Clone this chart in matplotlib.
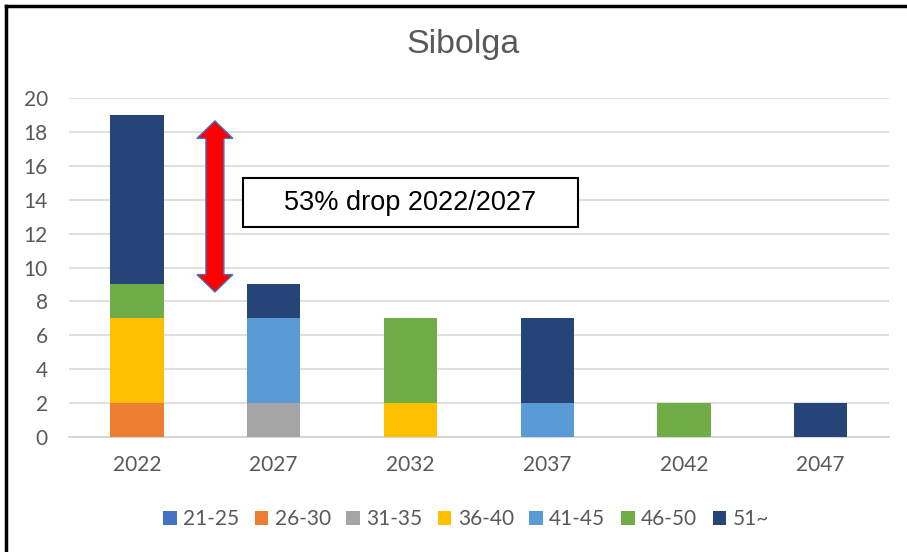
import matplotlib
matplotlib.use("Agg")
import matplotlib.pyplot as plt
from matplotlib.patches import Polygon, Rectangle, Patch
from matplotlib.lines import Line2D
import numpy as np

# Data: number of people per age group, by year
years = ["2022", "2027", "2032", "2037", "2042", "2047"]
age_groups = ["21-25", "26-30", "31-35", "36-40", "41-45", "46-50", "51~"]
counts_21_25 = [0, 0, 0, 0, 0, 0]
counts_26_30 = [2, 0, 0, 0, 0, 0]
counts_31_35 = [0, 2, 0, 0, 0, 0]
counts_36_40 = [5, 0, 2, 0, 0, 0]
counts_41_45 = [0, 5, 0, 2, 0, 0]
counts_46_50 = [2, 0, 5, 0, 2, 0]
counts_51_up = [10, 2, 0, 5, 0, 2]
series = [counts_21_25, counts_26_30, counts_31_35, counts_36_40,
          counts_41_45, counts_46_50, counts_51_up]
colors = ["#4472C4", "#ED7D31", "#A5A5A5", "#FFC000",
          "#5B9BD5", "#70AD47", "#264478"]
y_ticks = [0, 2, 4, 6, 8, 10, 12, 14, 16, 18, 20]
title = "Sibolga"
note = "53% drop 2022/2027"

W, H = 907, 552
fig = plt.figure(figsize=(W / 100, H / 100), dpi=100)
ax = fig.add_axes([68.6 / W, 1 - 437 / H, (889 - 68.6) / W, (437 - 98) / H])

tick_font = "Lato"
gray_text = "#595959"

x = np.arange(len(years))
bottom = np.zeros(len(years))
for vals, col, lab in zip(series, colors, age_groups):
    v = np.array(vals, dtype=float)
    ax.bar(x, v, 0.39, bottom=bottom, color=col, label=lab, zorder=3)
    bottom += v

ax.set_xlim(-0.5, len(years) - 0.5)
ax.set_ylim(0, 20)
ax.set_yticks(y_ticks)
ax.set_xticks(x)
ax.set_xticklabels(years)
ax.grid(axis="y", color="#d9d9d9", linewidth=1.2, zorder=0)
ax.set_axisbelow(True)
for s in ["top", "right", "left"]:
    ax.spines[s].set_visible(False)
ax.spines["bottom"].set_color("#d0d0d0")
ax.spines["bottom"].set_linewidth(1.2)
ax.tick_params(axis="both", length=0, labelsize=15, labelcolor=gray_text)
ax.tick_params(axis="x", pad=13)
ax.tick_params(axis="y", pad=15)
for lbl in ax.get_xticklabels() + ax.get_yticklabels():
    lbl.set_fontfamily(tick_font)

# Double-headed red arrow between the 2022 and 2027 totals
px_x = 136.8   # pixels per category
px_y = 16.95   # pixels per unit
xc = 0.57
y_top, y_bot = 18.65, 8.55
sw = 9 / px_x
hw = 18 / px_x
hl = 17.5 / px_y
pts = [
    (xc, y_top), (xc + hw, y_top - hl), (xc + sw, y_top - hl),
    (xc + sw, y_bot + hl), (xc + hw, y_bot + hl), (xc, y_bot),
    (xc - hw, y_bot + hl), (xc - sw, y_bot + hl), (xc - sw, y_top - hl),
    (xc - hw, y_top - hl),
]
ax.add_patch(Polygon(pts, closed=True, facecolor="#FF0000",
                     edgecolor="#4472C4", linewidth=1.0, zorder=5))

# Annotation box
bx0, bx1 = (243 - 137) / px_x, (578 - 137) / px_x
by0, by1 = (437 - 227) / px_y, (437 - 178) / px_y
ax.add_patch(Rectangle((bx0, by0), bx1 - bx0, by1 - by0, facecolor="white",
                       edgecolor="black", linewidth=1.5, zorder=5))
ax.text((bx0 + bx1) / 2, (by0 + by1) / 2, note, ha="center", va="center",
        fontsize=19.5, family="Liberation Sans", color="black", zorder=6)

fig.text(463 / W, 1 - 45 / H, title, ha="center", va="center",
         fontsize=24.5, family="Liberation Sans", color=gray_text)

handles = [Patch(facecolor=c, edgecolor="none") for c in colors]
fig.legend(handles, age_groups, loc="center", bbox_to_anchor=(466 / W, 1 - 519 / H),
           ncol=7, frameon=False, handlelength=0.65, handleheight=0.65,
           handletextpad=0.3, columnspacing=0.75,
           prop={"family": tick_font, "size": 15}, labelcolor=gray_text)

# Frame along the top and left edges
fig.add_artist(Line2D([6 / W, 1], [1 - 6 / H, 1 - 6 / H], color="black",
                      linewidth=2.5, transform=fig.transFigure))
fig.add_artist(Line2D([6 / W, 6 / W], [0, 1 - 6 / H], color="black",
                      linewidth=2.5, transform=fig.transFigure))

fig.savefig("out.png", dpi=100, facecolor="white")
